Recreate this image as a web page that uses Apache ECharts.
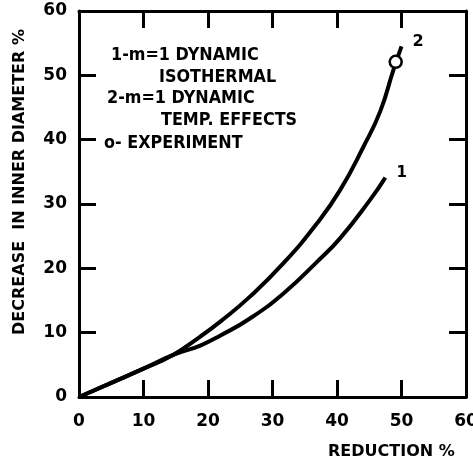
<!DOCTYPE html>
<html>
<head>
<meta charset="utf-8">
<script src="https://cdn.jsdelivr.net/npm/echarts@6/dist/echarts.min.js"></script>
<style>
  html, body { margin: 0; padding: 0; background: #fff; }
  #chart { width: 473px; height: 466px; }
</style>
</head>
<body>
<div id="chart"></div>
<script>
// Reduction % (x) vs. decrease in inner diameter % (y)
const isothermalX = [0, 5, 10, 14.5, 18.8, 22, 26.5, 31.7, 36.9, 40.5, 45.1, 47.5];
const isothermalY = [0, 2.2, 4.4, 6.5, 8.0, 9.6, 12.2, 16.1, 21.0, 24.7, 30.6, 34.1];

const tempEffectsX = [0, 5, 10, 14.5, 18.8, 22, 26.5, 31.7, 36.9, 40.5, 44.1, 46.7, 48.7, 50];
const tempEffectsY = [0, 2.2, 4.4, 6.5, 9.4, 11.8, 15.6, 20.8, 27, 32.2, 38.9, 44.4, 50.7, 54.5];

const experimentX = [49.1];
const experimentY = [52.1];

const xTicks = [0, 10, 20, 30, 40, 50, 60];
const yTicks = [0, 10, 20, 30, 40, 50, 60];

const legendLines = [
  '1-m=1 DYNAMIC',
  'ISOTHERMAL',
  '2-m=1 DYNAMIC',
  'TEMP. EFFECTS',
  'o- EXPERIMENT'
];

const pairs = (xs, ys) => xs.map((x, i) => [x, ys[i]]);

const FONT = '"DejaVu Sans", sans-serif';
const INK = '#000';

const labelStyle = { color: INK, fontFamily: FONT, fontWeight: 'bold', fontSize: 17 };

const baseAxis = {
  type: 'value',
  min: 0,
  max: 60,
  interval: 10,
  axisLine: { show: true, onZero: false, lineStyle: { color: INK, width: 3 } },
  axisTick: { show: true, inside: true, length: 17, lineStyle: { color: INK, width: 3 } },
  splitLine: { show: false }
};

const legendText = (left, top, text) => ({
  type: 'text', x: left, y: top, scaleY: 1.1,
  style: { text: text, fill: INK, font: 'bold 16px ' + FONT, verticalAlign: 'middle' }
});

const chart = echarts.init(document.getElementById('chart'), null, { renderer: 'canvas' });

chart.setOption({
  animation: false,
  backgroundColor: '#fff',
  grid: { left: 79, right: 7, top: 11, bottom: 69, containLabel: false, outerBoundsMode: 'none' },
  xAxis: [
    Object.assign({}, baseAxis, {
      position: 'bottom',
      axisLabel: Object.assign({ margin: 16, formatter: v => xTicks.includes(v) ? String(v) : '' }, labelStyle)
    }),
    Object.assign({}, baseAxis, { position: 'top', axisLabel: { show: false } })
  ],
  yAxis: [
    Object.assign({}, baseAxis, {
      position: 'left',
      axisLabel: Object.assign({ margin: 12, formatter: v => yTicks.includes(v) ? String(v) : '' }, labelStyle)
    }),
    Object.assign({}, baseAxis, { position: 'right', axisLabel: { show: false } })
  ],
  graphic: [
    {
      type: 'text', x: 328, y: 452,
      style: { text: 'REDUCTION %', fill: INK, font: 'bold 16px ' + FONT, verticalAlign: 'middle' }
    },
    {
      type: 'text', x: 20, y: 182, rotation: Math.PI / 2,
      style: {
        text: 'DECREASE  IN INNER DIAMETER %', fill: INK, font: 'bold 16px ' + FONT,
        align: 'center', verticalAlign: 'middle'
      }
    },
    legendText(111, 55, legendLines[0]),
    legendText(159, 77, legendLines[1]),
    legendText(107, 98, legendLines[2]),
    legendText(161, 120, legendLines[3]),
    legendText(104, 143, legendLines[4])
  ],
  series: [
    {
      name: '1', type: 'line', smooth: 0.5, showSymbol: false,
      data: pairs(isothermalX, isothermalY),
      lineStyle: { color: INK, width: 4 },
      endLabel: { show: true, formatter: '1', offset: [3, -5], color: INK, fontFamily: FONT, fontWeight: 'bold', fontSize: 15 }
    },
    {
      name: '2', type: 'line', smooth: 0.5, showSymbol: false,
      data: pairs(tempEffectsX, tempEffectsY),
      lineStyle: { color: INK, width: 4 },
      endLabel: { show: true, formatter: '2', offset: [3, -5], color: INK, fontFamily: FONT, fontWeight: 'bold', fontSize: 16 }
    },
    {
      name: 'Experiment', type: 'scatter', z: 5,
      data: pairs(experimentX, experimentY),
      symbol: 'circle', symbolSize: 12,
      itemStyle: { color: '#fff', opacity: 1, borderColor: INK, borderWidth: 2.5 }
    }
  ]
});
</script>
</body>
</html>
